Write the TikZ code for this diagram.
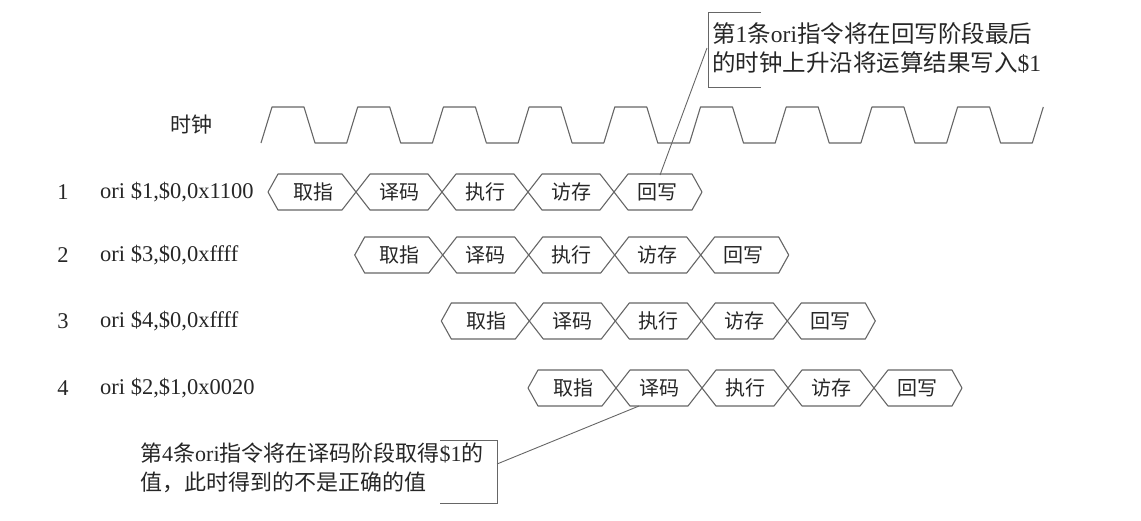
\documentclass[tikz,border=0pt]{standalone}
\usepackage{fontspec}
\setmainfont{Liberation Serif}
\newfontfamily\cjk{Noto Sans CJK SC}
\begin{document}
\begin{tikzpicture}[x=1pt,y=-1pt,
  wave/.style={draw=black!60, line width=1.1pt, line join=round},
  bus/.style={draw=black!60, line width=1.1pt, line join=round},
  leader/.style={draw=black!60, line width=0.9pt},
  bracket/.style={draw=black!60, line width=1pt},
  txt/.style={inner sep=0pt, text=black!85, font=\fontsize{22.5}{26}\selectfont},
  stagetxt/.style={inner sep=0pt, text=black!85, font=\fontsize{20}{24}\selectfont\cjk},
  notetxt/.style={inner sep=0pt, text=black!85, anchor=west, font=\fontsize{23.5}{27}\selectfont}]
\useasboundingbox (0,0) rectangle (1141,520);

% clock
\node[txt, font=\fontsize{21}{24}\selectfont\cjk] (clk) at (191,125) {时钟};
\draw[wave] (261,143) \foreach \k in {0,...,8}{ -- ++(11,-36) -- ++(32,0) -- ++(11,36) -- ++(31.7,0)} -- ++(11,-36);

% instruction labels
\node[txt] (n1) at (63,192) {1};
\node[txt] (n2) at (63,255) {2};
\node[txt] (n3) at (63,321) {3};
\node[txt] (n4) at (63,388) {4};
\node[txt, anchor=west] (i1) at (100,192) {ori \$1,\$0,0x1100};
\node[txt, anchor=west] (i2) at (100,255) {ori \$3,\$0,0xffff};
\node[txt, anchor=west] (i3) at (100,321) {ori \$4,\$0,0xffff};
\node[txt, anchor=west] (i4) at (100,388) {ori \$2,\$1,0x0020};

% pipeline rows
\foreach \r/\L/\y in {1/268/192, 2/354.7/255, 3/441.3/321, 4/528/388}{
  \pgfmathsetmacro\ca{\L+88}
  \pgfmathsetmacro\cb{\ca+86}
  \pgfmathsetmacro\cc{\cb+86}
  \pgfmathsetmacro\cd{\cc+86}
  \pgfmathsetmacro\ce{\cd+88}
  \pgfmathsetmacro\yt{\y-18}
  \pgfmathsetmacro\yb{\y+18}
  \draw[bus] (\L,\y) -- ({\L+10},\yt) -- ({\ca-14},\yt) -- ({\ca+14},\yb) -- ({\cb-14},\yb)
     -- ({\cb+14},\yt) -- ({\cc-14},\yt) -- ({\cc+14},\yb) -- ({\cd-14},\yb) -- ({\cd+14},\yt)
     -- ({\ce-10},\yt) -- (\ce,\y);
  \draw[bus] (\L,\y) -- ({\L+10},\yb) -- ({\ca-14},\yb) -- ({\ca+14},\yt) -- ({\cb-14},\yt)
     -- ({\cb+14},\yb) -- ({\cc-14},\yb) -- ({\cc+14},\yt) -- ({\cd-14},\yt) -- ({\cd+14},\yb)
     -- ({\ce-10},\yb) -- (\ce,\y);
  \node[stagetxt] (s\r-1) at ({\L+45},\y) {取指};
  \node[stagetxt] (s\r-2) at ({\ca+43},\y) {译码};
  \node[stagetxt] (s\r-3) at ({\cb+43},\y) {执行};
  \node[stagetxt] (s\r-4) at ({\cc+43},\y) {访存};
  \node[stagetxt] (s\r-5) at ({\cd+43},\y) {回写};
}

% callout 1
\draw[bracket] (761,12) -- (708,12) -- (708,87) -- (761,87);
\node[notetxt] (note1a) at (712,34) {{\cjk 第}1{\cjk 条}ori{\cjk 指令将在回写阶段最后}};
\node[notetxt] (note1b) at (712,63) {{\cjk 的时钟上升沿将运算结果写入}\$1};
\coordinate (lead1) at (707,48);
\coordinate (wb1) at (660,175);
\draw[leader] (lead1) -- (wb1);

% callout 2
\draw[bracket] (440,440) -- (497,440) -- (497,503) -- (440,503);
\node[notetxt, font=\fontsize{22}{25}\selectfont] (note2a) at (140,453) {{\cjk 第}4{\cjk 条}ori{\cjk 指令将在译码阶段取得}\$1{\cjk 的}};
\node[notetxt, font=\fontsize{22}{25}\selectfont] (note2b) at (140,482) {{\cjk 值，此时得到的不是正确的值}};
\coordinate (lead2) at (497,464);
\coordinate (id4) at (639,406);
\draw[leader] (lead2) -- (id4);
\end{tikzpicture}
\end{document}
